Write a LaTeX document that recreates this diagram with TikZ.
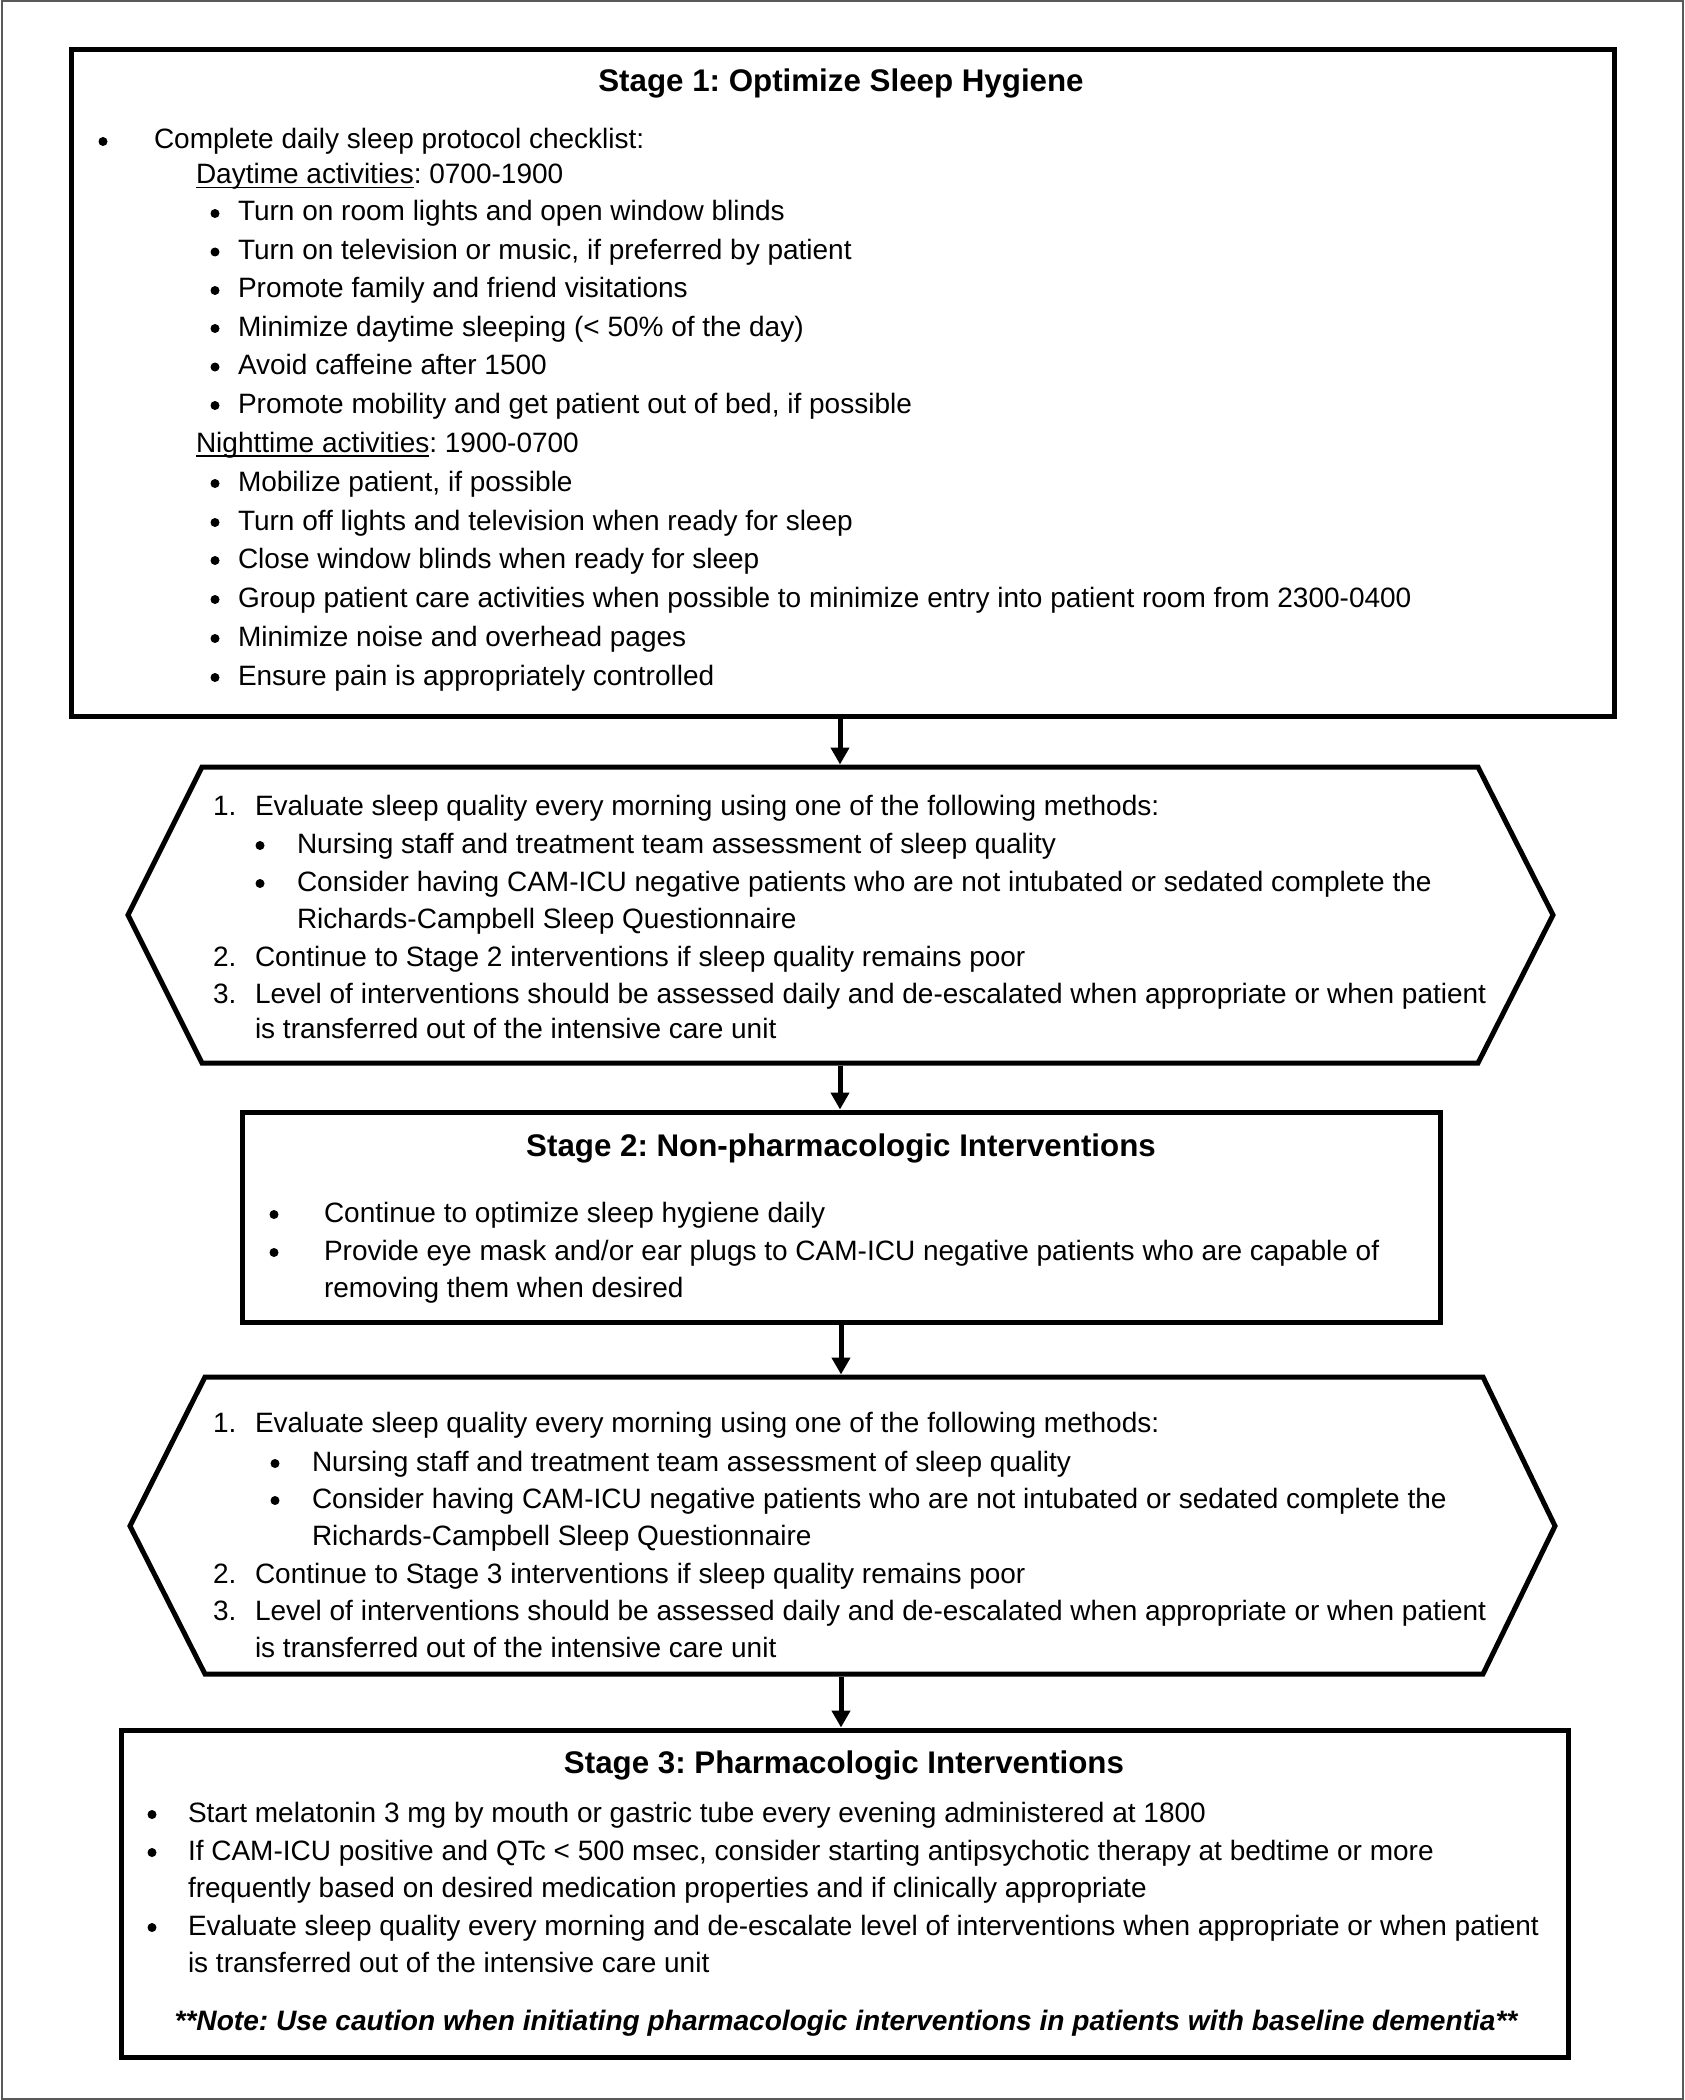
\documentclass[tikz,border=0pt]{standalone}
\usepackage{fontspec}
\setmainfont{Liberation Sans}
\usetikzlibrary{arrows.meta}
\frenchspacing
\newcommand\ULtext[1]{\setbox0\hbox{#1}\rlap{\rule[-4.5pt]{\wd0}{1.8pt}}\box0}
\newcommand\TL[4]{\node[txt] (#1) at (#2,#3) {#4};}
\newcommand\BL[3]{\node[dot] (#1) at (#2,#3-7.5) {};}
\tikzset{
  body/.style={font=\frenchspacing\fontsize{28pt}{33pt}\selectfont, inner sep=0pt, outer sep=0pt},
  txt/.style={body, anchor=base west},
  dot/.style={circle, fill=black, draw=none, minimum size=9pt, inner sep=0pt},
  ttl/.style={font=\frenchspacing\bfseries\fontsize{31.3pt}{36pt}\selectfont, inner sep=0pt, anchor=base},
  note/.style={font=\frenchspacing\bfseries\itshape\fontsize{28.1pt}{33pt}\selectfont, inner sep=0pt, anchor=base},
  stagebox/.style={draw, line width=5pt, rectangle, inner sep=0pt},
  hexa/.style={draw, line width=5pt, line join=miter},
  arr/.style={line width=5pt, -{Triangle[width=18pt,length=17pt]}},
  frame/.style={draw=black!65, line width=2pt}
}
\begin{document}
\begin{tikzpicture}[x=1pt,y=-1pt]
\useasboundingbox (0,0) rectangle (1684,2100);
\draw[frame] (1.5,1.5) rectangle (1682.5,2098.5);

% ---------------- Stage 1 ----------------
\node[stagebox, minimum width=1543pt, minimum height=666pt] (s1) at (842.5,383) {};
\node[ttl] (s1t) at (841,92) {Stage 1: Optimize Sleep Hygiene};
\BL{s1b0}{103}{149}\TL{s1l0}{154}{149}{Complete daily sleep protocol checklist:}
\TL{s1day}{196}{184}{\ULtext{Daytime activities}: 0700-1900}
\BL{s1b1}{215}{221}\TL{s1l1}{238}{221}{Turn on room lights and open window blinds}
\BL{s1b2}{215}{259.5}\TL{s1l2}{238}{259.5}{Turn on television or music, if preferred by patient}
\BL{s1b3}{215}{298}\TL{s1l3}{238}{298}{Promote family and friend visitations}
\BL{s1b4}{215}{336}\TL{s1l4}{238}{336}{Minimize daytime sleeping (< 50\% of the day)}
\BL{s1b5}{215}{374.5}\TL{s1l5}{238}{374.5}{Avoid caffeine after 1500}
\BL{s1b6}{215}{413}\TL{s1l6}{238}{413}{Promote mobility and get patient out of bed, if possible}
\TL{s1night}{196}{452}{\ULtext{Nighttime activities}: 1900-0700}
\BL{s1b7}{215}{491}\TL{s1l7}{238}{491}{Mobilize patient, if possible}
\BL{s1b8}{215}{530}\TL{s1l8}{238}{530}{Turn off lights and television when ready for sleep}
\BL{s1b9}{215}{568}\TL{s1l9}{238}{568}{Close window blinds when ready for sleep}
\BL{s1b10}{215}{607}\TL{s1l10}{238}{607}{Group patient care activities when possible to minimize entry into patient room from 2300-0400}
\BL{s1b11}{215}{646}\TL{s1l11}{238}{646}{Minimize noise and overhead pages}
\BL{s1b12}{215}{685}\TL{s1l12}{238}{685}{Ensure pain is appropriately controlled}

% ---------------- Hexagon 1 ----------------
\draw[hexa] (202,767) -- (1478,767) -- (1553,915) -- (1478,1063) -- (202,1063) -- (128,915) -- cycle;
\coordinate (h1n) at (840,764.5);
\coordinate (h1s) at (840,1065.5);
\TL{h1n1}{213}{815}{1.}\TL{h1l1}{255}{815}{Evaluate sleep quality every morning using one of the following methods:}
\BL{h1b1}{260}{853}\TL{h1l2}{297}{853}{Nursing staff and treatment team assessment of sleep quality}
\BL{h1b2}{260}{891}\TL{h1l3}{297}{891}{Consider having CAM-ICU negative patients who are not intubated or sedated complete the}
\TL{h1l4}{297}{928}{Richards-Campbell Sleep Questionnaire}
\TL{h1n2}{213}{966}{2.}\TL{h1l5}{255}{966}{Continue to Stage 2 interventions if sleep quality remains poor}
\TL{h1n3}{213}{1003}{3.}\TL{h1l6}{255}{1003}{Level of interventions should be assessed daily and de-escalated when appropriate or when patient}
\TL{h1l7}{255}{1038}{is transferred out of the intensive care unit}

% ---------------- Stage 2 ----------------
\node[stagebox, minimum width=1198pt, minimum height=210pt] (s2) at (841,1217) {};
\node[ttl] (s2t) at (841,1156) {Stage 2: Non-pharmacologic Interventions};
\BL{s2b1}{274}{1222}\TL{s2l1}{324}{1222}{Continue to optimize sleep hygiene daily}
\BL{s2b2}{274}{1260}\TL{s2l2}{324}{1260}{Provide eye mask and/or ear plugs to CAM-ICU negative patients who are capable of}
\TL{s2l3}{324}{1297}{removing them when desired}

% ---------------- Hexagon 2 ----------------
\draw[hexa] (205,1377) -- (1483,1377) -- (1555,1526) -- (1483,1674) -- (205,1674) -- (130,1526) -- cycle;
\coordinate (h2n) at (841,1374.5);
\coordinate (h2s) at (841,1676.5);
\TL{h2n1}{213}{1432}{1.}\TL{h2l1}{255}{1432}{Evaluate sleep quality every morning using one of the following methods:}
\BL{h2b1}{275}{1471}\TL{h2l2}{312}{1471}{Nursing staff and treatment team assessment of sleep quality}
\BL{h2b2}{275}{1508}\TL{h2l3}{312}{1508}{Consider having CAM-ICU negative patients who are not intubated or sedated complete the}
\TL{h2l4}{312}{1545}{Richards-Campbell Sleep Questionnaire}
\TL{h2n2}{213}{1583}{2.}\TL{h2l5}{255}{1583}{Continue to Stage 3 interventions if sleep quality remains poor}
\TL{h2n3}{213}{1620}{3.}\TL{h2l6}{255}{1620}{Level of interventions should be assessed daily and de-escalated when appropriate or when patient}
\TL{h2l7}{255}{1657}{is transferred out of the intensive care unit}

% ---------------- Stage 3 ----------------
\node[stagebox, minimum width=1447pt, minimum height=327pt] (s3) at (845,1893.5) {};
\node[ttl] (s3t) at (844,1773) {Stage 3: Pharmacologic Interventions};
\BL{s3b1}{152}{1822}\TL{s3l1}{188}{1822}{Start melatonin 3 mg by mouth or gastric tube every evening administered at 1800}
\BL{s3b2}{152}{1860}\TL{s3l2}{188}{1860}{If CAM-ICU positive and QTc < 500 msec, consider starting antipsychotic therapy at bedtime or more}
\TL{s3l3}{188}{1897}{frequently based on desired medication properties and if clinically appropriate}
\BL{s3b3}{152}{1935}\TL{s3l4}{188}{1935}{Evaluate sleep quality every morning and de-escalate level of interventions when appropriate or when patient}
\TL{s3l5}{188}{1972}{is transferred out of the intensive care unit}
\node[note] (s3n) at (846,2030) {**Note: Use caution when initiating pharmacologic interventions in patients with baseline dementia**};

% ---------------- Connectors ----------------
\draw[arr] (h1n |- s1.south) -- (h1n);
\draw[arr] (h1s) -- (h1s |- s2.north);
\draw[arr] (h2n |- s2.south) -- (h2n);
\draw[arr] (h2s) -- (h2s |- s3.north);
\end{tikzpicture}
\end{document}
